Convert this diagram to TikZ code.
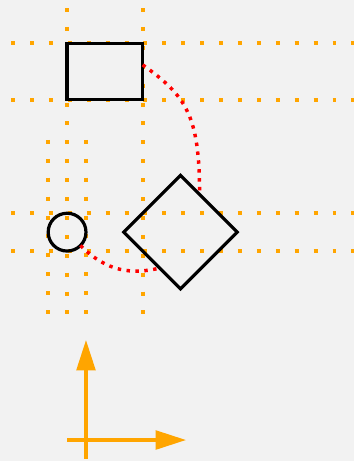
\documentclass[tikz,border=0pt]{standalone}
\usepackage{tikz}
\usetikzlibrary{arrows.meta,positioning,shapes.geometric}
\definecolor{guideorange}{HTML}{FFA500}
\definecolor{bggray}{HTML}{F2F2F2}
\begin{document}
\begin{tikzpicture}[
shp/.style={draw=black,line width=2.4pt,inner sep=0pt,outer sep=0pt},
guide/.style={draw=guideorange,line width=3pt,dash pattern=on 3pt off 11.23pt},
link/.style={draw=red,line width=2.6pt,dash pattern=on 2.6pt off 4.1pt},
axis/.style={draw=guideorange,line width=2.8pt,-{Triangle[length=23pt,width=14pt]}}]
\fill[bggray] (-2.275,-0.555) rectangle (7.091,11.642);
\useasboundingbox (-2.275,-0.555) rectangle (7.091,11.642);
\foreach \y in {10.5,9,6,5} \draw[guide] (-1.98,\y) -- (7.2,\y);
\foreach \x in {-0.5,1.5} \draw[guide] (\x,11.43) -- (\x,3.33);
\foreach \x in {-1,0} \draw[guide] (\x,7.94) -- (\x,3.33);
\node[shp,minimum width=2cm,minimum height=1.5cm] (r) at (0.5,9.75) {};
\node[shp,circle,minimum size=1cm] (c) at (-0.5,5.5) {};
\node[shp,diamond,minimum width=3cm,minimum height=3cm,right=1cm of c] (d) {};
\coordinate (xl) at (-0.5,0); \coordinate (xr) at (2.65,0);
\coordinate (yb) at (0,-0.5); \coordinate (yt) at (0,2.65);
\draw[link] (r.10) .. controls +(1.14,-0.82) and +(0,2.12) .. (d.63);
\draw[link] (c.-45) .. controls +(0.71,-0.71) and +(-0.73,-0.17) .. (d.-120);
\draw[axis] (yb) -- (yt); \draw[axis] (xl) -- (xr);
\end{tikzpicture}
\end{document}
